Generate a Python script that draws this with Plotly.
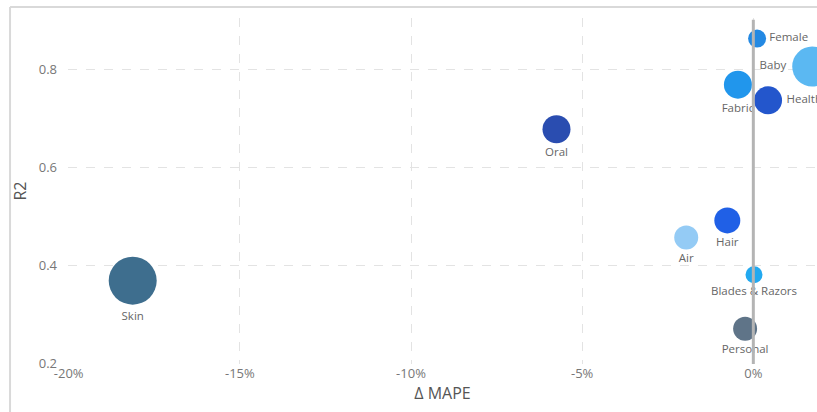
import plotly.graph_objects as go

# Category performance: change in MAPE (%) vs. R2, bubble size = volume weight
categories = ["Skin", "Oral", "Female", "Baby", "Fabric", "Health",
              "Hair", "Air", "Blades & Razors", "Personal"]
delta_mape = [-18.13, -5.75, 0.11, 1.72, -0.45, 0.43, -0.76, -1.96, 0.02, -0.24]
r2 = [0.369, 0.678, 0.863, 0.806, 0.769, 0.737, 0.492, 0.457, 0.381, 0.271]
weight = [48, 28, 18, 40, 28, 28, 26, 24, 17, 24]
colors = ["#3E6E8E", "#2A4DB0", "#2389E3", "#5BB8F2", "#2196EC", "#2356CC",
          "#2060E6", "#94CBF5", "#22A9F0", "#5F7488"]
label_pos = ["bottom center", "bottom center", "middle right", "middle left",
             "bottom center", "middle right", "bottom center", "bottom center",
             "bottom center", "bottom center"]

x_ticks = [-20, -15, -10, -5, 0]
x_tick_labels = ["-20%", "-15%", "-10%", "-5%", "0%"]
y_ticks = [0.2, 0.4, 0.6, 0.8]
y_tick_labels = ["0.2", "0.4", "0.6", "0.8"]

FONT = "Segoe UI, Open Sans, sans-serif"

fig = go.Figure(go.Scatter(
    x=delta_mape, y=r2, mode="markers+text",
    text=categories, textposition=label_pos,
    textfont=dict(family=FONT, size=11.5, color="#666666"),
    marker=dict(size=weight, sizemode="diameter", sizeref=1,
                color=colors, opacity=1, line=dict(width=0)),
    cliponaxis=True, hoverinfo="text",
))

# zero reference line drawn over the bubbles
fig.add_shape(type="line", xref="x", yref="paper", x0=0, x1=0, y0=0, y1=0.995,
              line=dict(color="#B4B4B4", width=3), layer="above")

# light frame around the visual
fig.add_shape(type="line", xref="paper", yref="paper", x0=-0.0774, x1=1.2,
              y0=1.0318, y1=1.0318, line=dict(color="#D9D9D9", width=2))
fig.add_shape(type="line", xref="paper", yref="paper", x0=-0.0774, x1=-0.0774,
              y0=1.0318, y1=-0.2, line=dict(color="#D9D9D9", width=2))

fig.update_layout(
    width=817, height=412,
    margin=dict(l=68, r=0, t=18, b=48),
    paper_bgcolor="white", plot_bgcolor="white",
    showlegend=False,
    font=dict(family=FONT, color="#777777"),
    xaxis=dict(
        range=[-20.02, 1.86], tickvals=x_ticks, ticktext=x_tick_labels,
        showgrid=True, gridcolor="#E3E3E3", griddash="dash", gridwidth=1,
        zeroline=False, showline=False, ticks="",
        tickfont=dict(family=FONT, size=13, color="#777777"),
        title=dict(text="Δ MAPE", font=dict(family=FONT, size=16, color="#555555"),
                   standoff=4),
    ),
    yaxis=dict(
        range=[0.199, 0.905], tickvals=y_ticks, ticktext=y_tick_labels,
        showgrid=True, gridcolor="#E3E3E3", griddash="dash", gridwidth=1,
        zeroline=False, showline=False, ticks="",
        ticklabelstandoff=10,
        tickfont=dict(family=FONT, size=13, color="#777777"),
        title=dict(text="R2", font=dict(family=FONT, size=16, color="#555555"),
                   standoff=8),
    ),
)

fig.write_html("out.html")
